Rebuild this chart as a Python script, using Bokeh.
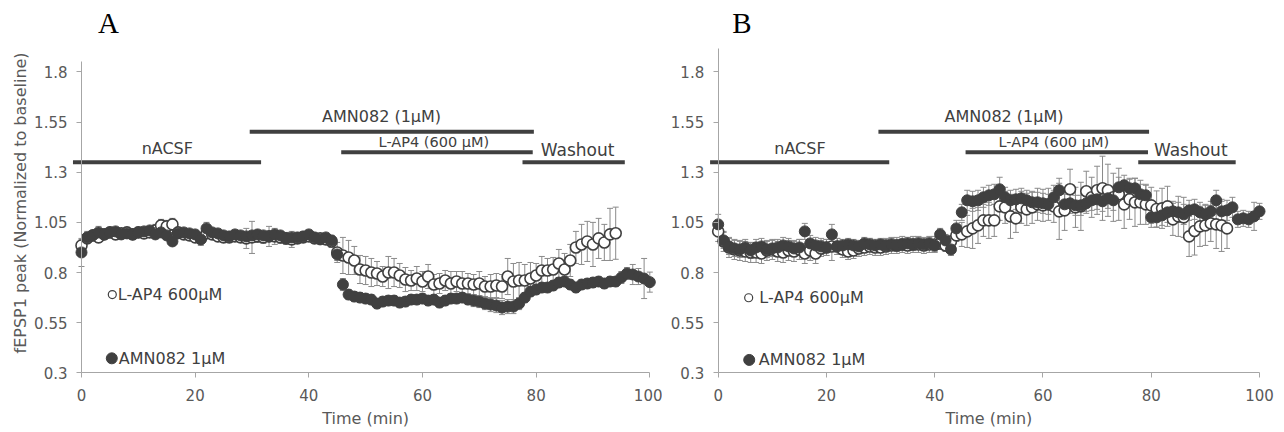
import numpy as np
from bokeh.plotting import figure
from bokeh.layouts import row
from bokeh.models import ColumnDataSource, Whisker, TeeHead, FixedTicker, Range1d
from bokeh.core.properties import value
from bokeh.embed import file_html
from bokeh.resources import INLINE

# ---------------- data ----------------
time_amn = list(range(0, 101))   # AMN082 1uM series (filled)
time_lap4 = list(range(0, 95))   # L-AP4 600uM series (open)

x_ticks = [0, 20, 40, 60, 80, 100]
y_ticks = [0.3, 0.55, 0.8, 1.05, 1.3, 1.55, 1.8]
y_tick_labels = ["0.3", "0.55", "0.8", "1.05", "1.3", "1.55", "1.8"]

# Panel A
a_amn = [0.90, 0.975, 0.985, 1.0, 0.99, 1.0, 1.005, 0.99, 0.995, 0.99,
         1.0, 1.005, 1.01, 0.99, 1.0, 0.985, 0.955, 0.995, 1.0, 0.995,
         0.99, 0.965, 1.02, 1.0, 0.995, 0.985, 0.98, 0.99, 0.985, 0.98,
         0.985, 0.99, 0.985, 0.98, 0.99, 0.985, 0.97, 0.975, 0.975, 0.98,
         0.99, 0.975, 0.965, 0.975, 0.96, 0.89, 0.74, 0.69, 0.68, 0.675,
         0.67, 0.665, 0.645, 0.655, 0.66, 0.66, 0.65, 0.655, 0.665, 0.665,
         0.67, 0.66, 0.665, 0.65, 0.66, 0.67, 0.67, 0.675, 0.665, 0.66,
         0.655, 0.645, 0.64, 0.635, 0.625, 0.63, 0.63, 0.645, 0.675, 0.705,
         0.715, 0.725, 0.725, 0.735, 0.75, 0.755, 0.74, 0.725, 0.74, 0.745,
         0.75, 0.755, 0.745, 0.755, 0.755, 0.775, 0.795, 0.79, 0.78, 0.77,
         0.752]
a_amn_err = [0.07, 0.03, 0.02, 0.03, 0.02, 0.02, 0.02, 0.02, 0.02, 0.02,
             0.02, 0.02, 0.02, 0.02, 0.02, 0.02, 0.02, 0.02, 0.02, 0.02,
             0.02, 0.03, 0.03, 0.02, 0.02, 0.02, 0.02, 0.02, 0.02, 0.02,
             0.02, 0.02, 0.02, 0.02, 0.02, 0.02, 0.02, 0.02, 0.02, 0.02,
             0.02, 0.02, 0.02, 0.02, 0.02, 0.03, 0.03, 0.025, 0.025, 0.025,
             0.025, 0.025, 0.025, 0.025, 0.025, 0.025, 0.025, 0.025, 0.025, 0.025,
             0.025, 0.025, 0.025, 0.025, 0.025, 0.025, 0.025, 0.025, 0.025, 0.03,
             0.03, 0.03, 0.035, 0.035, 0.035, 0.035, 0.035, 0.03, 0.025, 0.025,
             0.025, 0.025, 0.025, 0.025, 0.025, 0.025, 0.025, 0.025, 0.025, 0.025,
             0.025, 0.025, 0.025, 0.025, 0.025, 0.03, 0.03, 0.05, 0.04, 0.1,
             0.05]
a_lap4 = [0.935, 0.97, 0.985, 0.975, 0.99, 1.0, 0.99, 0.995, 1.0, 0.99,
          1.0, 0.995, 1.0, 1.01, 1.035, 1.03, 1.04, 1.0, 0.99, 0.985,
          0.975, 0.97, 0.995, 0.99, 0.98, 0.975, 0.975, 0.98, 0.975, 0.97,
          0.975, 0.98, 0.975, 0.98, 0.98, 0.975, 0.97, 0.965, 0.97, 0.975,
          0.98, 0.97, 0.97, 0.965, 0.955, 0.9, 0.885, 0.875, 0.86, 0.815,
          0.81, 0.8, 0.795, 0.78, 0.8, 0.8, 0.785, 0.765, 0.76, 0.77,
          0.755, 0.78, 0.74, 0.745, 0.76, 0.745, 0.755, 0.745, 0.745, 0.74,
          0.745, 0.73, 0.73, 0.735, 0.73, 0.78, 0.755, 0.76, 0.76, 0.77,
          0.785, 0.81, 0.81, 0.815, 0.845, 0.815, 0.86, 0.925, 0.94, 0.955,
          0.94, 0.97, 0.95, 0.99, 0.996]
a_lap4_err = [0.03, 0.025, 0.025, 0.025, 0.025, 0.025, 0.025, 0.025, 0.025, 0.025,
              0.025, 0.025, 0.025, 0.03, 0.03, 0.03, 0.03, 0.025, 0.025, 0.025,
              0.025, 0.025, 0.025, 0.025, 0.025, 0.025, 0.025, 0.025, 0.025, 0.05,
              0.08, 0.03, 0.03, 0.05, 0.04, 0.03, 0.03, 0.04, 0.025, 0.025,
              0.025, 0.025, 0.025, 0.025, 0.03, 0.05, 0.09, 0.085, 0.07, 0.07,
              0.07, 0.07, 0.06, 0.05, 0.08, 0.07, 0.06, 0.06, 0.05, 0.06,
              0.05, 0.06, 0.05, 0.05, 0.05, 0.06, 0.05, 0.06, 0.05, 0.05,
              0.06, 0.05, 0.06, 0.06, 0.06, 0.09, 0.09, 0.09, 0.08, 0.08,
              0.06, 0.07, 0.06, 0.06, 0.07, 0.08, 0.08, 0.08, 0.1, 0.1,
              0.11, 0.1, 0.09, 0.13, 0.13]

# Panel B
b_amn = [1.04, 0.96, 0.93, 0.92, 0.915, 0.925, 0.91, 0.925, 0.93, 0.915,
         0.92, 0.925, 0.935, 0.93, 0.92, 0.925, 1.005, 0.945, 0.935, 0.93,
         0.925, 0.99, 0.93, 0.935, 0.94, 0.935, 0.93, 0.945, 0.94, 0.935,
         0.94, 0.935, 0.94, 0.935, 0.94, 0.945, 0.94, 0.945, 0.94, 0.945,
         0.935, 0.99, 0.96, 0.915, 1.02, 1.1, 1.16, 1.155, 1.16, 1.175,
         1.185, 1.19, 1.215, 1.175, 1.16, 1.165, 1.17, 1.16, 1.15, 1.15,
         1.145, 1.14, 1.175, 1.21, 1.14, 1.145, 1.135, 1.135, 1.145, 1.16,
         1.165, 1.155, 1.17, 1.16, 1.225, 1.235, 1.22, 1.22, 1.19, 1.185,
         1.075, 1.075, 1.085, 1.1, 1.105, 1.1, 1.09, 1.11, 1.115, 1.1,
         1.09, 1.105, 1.16, 1.105, 1.11, 1.125, 1.065, 1.07, 1.065, 1.08,
         1.105]
b_amn_err = [0.05, 0.04, 0.04, 0.04, 0.04, 0.04, 0.04, 0.04, 0.04, 0.04,
             0.04, 0.04, 0.04, 0.04, 0.04, 0.04, 0.04, 0.04, 0.04, 0.04,
             0.04, 0.05, 0.04, 0.03, 0.03, 0.03, 0.03, 0.03, 0.03, 0.03,
             0.03, 0.03, 0.03, 0.03, 0.03, 0.03, 0.03, 0.03, 0.03, 0.03,
             0.03, 0.03, 0.03, 0.03, 0.04, 0.04, 0.05, 0.05, 0.05, 0.05,
             0.05, 0.05, 0.06, 0.05, 0.05, 0.05, 0.05, 0.05, 0.05, 0.05,
             0.05, 0.05, 0.06, 0.06, 0.05, 0.05, 0.05, 0.05, 0.05, 0.05,
             0.05, 0.05, 0.05, 0.05, 0.05, 0.05, 0.05, 0.05, 0.05, 0.05,
             0.05, 0.05, 0.05, 0.05, 0.05, 0.05, 0.05, 0.05, 0.05, 0.05,
             0.05, 0.05, 0.05, 0.05, 0.05, 0.05, 0.04, 0.04, 0.04, 0.07,
             0.04]
b_lap4 = [1.005, 0.955, 0.925, 0.915, 0.91, 0.905, 0.9, 0.9, 0.895, 0.91,
          0.915, 0.905, 0.9, 0.91, 0.905, 0.915, 0.895, 0.91, 0.895, 0.92,
          0.925, 0.93, 0.93, 0.915, 0.905, 0.91, 0.92, 0.925, 0.93, 0.925,
          0.925, 0.93, 0.935, 0.935, 0.94, 0.935, 0.94, 0.94, 0.935, 0.94,
          0.94, 0.945, 0.935, 0.955, 0.985, 0.99, 1.005, 1.02, 1.035, 1.06,
          1.06, 1.06, 1.13, 1.125, 1.08, 1.07, 1.125, 1.115, 1.125, 1.14,
          1.135, 1.14, 1.13, 1.105, 1.11, 1.215, 1.125, 1.13, 1.205, 1.175,
          1.21, 1.22, 1.21, 1.175, 1.19, 1.14, 1.165, 1.15, 1.15, 1.14,
          1.135, 1.117, 1.12, 1.13, 1.065, 1.08, 1.075, 0.98, 1.007, 1.03,
          1.035, 1.045, 1.04, 1.035, 1.02]
b_lap4_err = [0.05, 0.05, 0.05, 0.05, 0.05, 0.05, 0.05, 0.05, 0.05, 0.05,
              0.05, 0.05, 0.05, 0.05, 0.05, 0.05, 0.05, 0.05, 0.05, 0.04,
              0.04, 0.07, 0.04, 0.04, 0.04, 0.04, 0.04, 0.04, 0.04, 0.04,
              0.04, 0.04, 0.04, 0.04, 0.04, 0.04, 0.04, 0.04, 0.04, 0.04,
              0.04, 0.03, 0.03, 0.03, 0.03, 0.06, 0.08, 0.1, 0.09, 0.08,
              0.09, 0.08, 0.07, 0.08, 0.11, 0.07, 0.08, 0.08, 0.08, 0.08,
              0.08, 0.08, 0.08, 0.14, 0.1, 0.1, 0.1, 0.12, 0.1, 0.1,
              0.12, 0.16, 0.13, 0.12, 0.13, 0.12, 0.1, 0.12, 0.11, 0.1,
              0.09, 0.09, 0.1, 0.1, 0.08, 0.1, 0.1, 0.1, 0.12, 0.1,
              0.1, 0.09, 0.12, 0.13, 0.1]

# protocol bars (time spans in min, level on y axis)
phase_names = ["nACSF", "AMN082 (1µM)", "L-AP4 (600 µM)", "Washout"]
phase_start = [-1.5, 29.6, 45.7, 77.6]
phase_end = [31.6, 79.6, 79.4, 95.6]
phase_level = [1.35, 1.502, 1.40, 1.35]

legend_names = ["L-AP4 600µM", "AMN082 1µM"]

# ---------------- styling ----------------
DARK = "#404040"
AXIS_GRAY = "#a6a6a6"
TEXT_GRAY = "#595959"
ERR_GRAY = "#8a8a8a"
FONT = "DejaVu Sans"
FIG_H = 430
Y0, Y1 = 0.0120, 2.1566


def make_panel(letter, width, xr, ytop, letter_x, leg_pos, show_ylabel, amn, amn_err, lap, lap_err):
    p = figure(width=width, height=FIG_H, x_range=Range1d(*xr), y_range=Range1d(Y0, Y1),
               output_backend="svg", toolbar_location=None, title=None,
               min_border=0, min_border_left=0, min_border_right=0,
               min_border_top=0, min_border_bottom=0)
    p.outline_line_color = None
    p.xgrid.visible = False
    p.ygrid.visible = False

    for ax in (p.xaxis[0], p.yaxis[0]):
        ax.axis_line_color = AXIS_GRAY
        ax.major_tick_line_color = AXIS_GRAY
        ax.major_tick_in = 0
        ax.major_tick_out = 5
        ax.minor_tick_line_color = None
        ax.major_label_text_font = FONT
        ax.major_label_text_font_size = "15px"
        ax.major_label_text_color = TEXT_GRAY
    p.xaxis.fixed_location = 0.3
    p.yaxis.fixed_location = 0
    p.xaxis.bounds = (0, 100)
    p.yaxis.bounds = (0.3, ytop)
    p.xaxis.ticker = FixedTicker(ticks=x_ticks)
    p.yaxis.ticker = FixedTicker(ticks=y_ticks)
    p.yaxis.major_label_overrides = {t: l for t, l in zip(y_ticks, y_tick_labels)}
    p.xaxis.major_label_standoff = 11
    p.yaxis.major_label_standoff = 9

    # error bars
    src_l = ColumnDataSource(dict(t=time_lap4[:len(lap)], v=lap,
                                  lo=[v - e for v, e in zip(lap, lap_err)],
                                  hi=[v + e for v, e in zip(lap, lap_err)]))
    src_a = ColumnDataSource(dict(t=time_amn[:len(amn)], v=amn,
                                  lo=[v - e for v, e in zip(amn, amn_err)],
                                  hi=[v + e for v, e in zip(amn, amn_err)]))
    for src in (src_l, src_a):
        w = Whisker(source=src, base="t", lower="lo", upper="hi",
                    line_color=ERR_GRAY, line_width=1,
                    upper_head=TeeHead(size=6, line_color=ERR_GRAY, line_width=1),
                    lower_head=TeeHead(size=6, line_color=ERR_GRAY, line_width=1))
        p.add_layout(w)

    p.scatter("t", "v", source=src_l, size=11, fill_color="white",
              line_color=DARK, line_width=1.6)
    p.scatter("t", "v", source=src_a, size=11, fill_color=DARK,
              line_color=DARK, line_width=1)

    # protocol bars
    p.segment(x0=phase_start, y0=phase_level, x1=phase_end, y1=phase_level,
              line_color=DARK, line_width=4)
    p.text(x=[15.1, 52.8], y=[1.4175, 1.577], text=[phase_names[0], phase_names[1]],
           text_font=value(FONT), text_font_size="16px", text_color=DARK,
           text_align="center", text_baseline="middle")
    p.text(x=[62.0], y=[1.4484], text=[phase_names[2]],
           text_font=value(FONT), text_font_size="14.5px", text_color=DARK,
           text_align="center", text_baseline="middle")
    p.text(x=[87.3], y=[1.4105], text=[phase_names[3]],
           text_font=value(FONT), text_font_size="17px", text_color=DARK,
           text_align="center", text_baseline="middle")

    # legend
    (ox, oy, fx, fy, otx, ftx) = leg_pos
    p.scatter([ox], [oy], size=8, fill_color="white", line_color=DARK, line_width=1.2)
    p.scatter([fx], [fy], size=11, fill_color=DARK, line_color=DARK)
    p.text(x=[otx, ftx], y=[oy, fy], text=legend_names,
           text_font=value(FONT), text_font_size="16px", text_color=DARK,
           text_align="left", text_baseline="middle")

    # panel letter
    p.text(x=[letter_x], y=[2.042], text=[letter], text_font=value("Liberation Serif"),
           text_font_size="29px", text_color="black", text_align="center",
           text_baseline="middle")

    # axis titles
    p.text(x=[50], y=[0.072], text=["Time (min)"], text_font=value(FONT),
           text_font_size="16px", text_color=TEXT_GRAY, text_align="center",
           text_baseline="middle")
    if show_ylabel:
        p.text(x=[-10.73], y=[1.147], text=["fEPSP1 peak (Normalized to baseline)"],
               angle=np.pi / 2, text_font=value(FONT), text_font_size="16px",
               text_color=TEXT_GRAY, text_align="center", text_baseline="middle")
    return p


pA = make_panel("A", 662, (-14.253, 102.235), 1.85, 4.75,
                (5.42, 0.69, 5.33, 0.372, 6.39, 6.56), True,
                a_amn, a_amn_err, a_lap4, a_lap4_err)
pB = make_panel("B", 618, (-10.29, 103.88), 1.916, 4.38,
                (5.63, 0.674, 5.73, 0.364, 7.6, 7.5), False,
                b_amn, b_amn_err, b_lap4, b_lap4_err)

layout = row(pA, pB)
open("out.html", "w").write(file_html(layout, INLINE))
